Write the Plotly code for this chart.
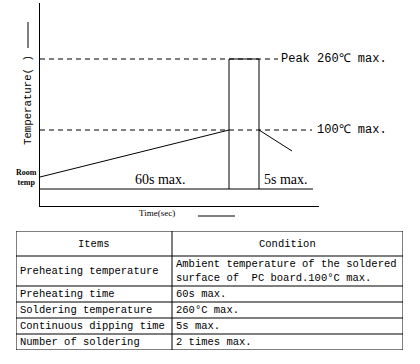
import plotly.graph_objects as go

W, H = 420, 364

# ---- schematic soldering profile (arbitrary units) ----
ramp_time = [0, 189]
ramp_temp = [29, 76]
dip_time = [189, 189, 219, 219]
dip_temp = [17, 147, 147, 17]
cool_time = [219, 252]
cool_temp = [76, 55]
base_time = [0, 273]
base_temp = [17, 17]
peak_time = [0, 238]
peak_temp = [147, 147]
pre_time = [0, 272]
pre_temp = [76, 76]

# ---- table ----
header_cells = ["Items", "Condition"]
items = ["Preheating temperature", "Preheating time", "Soldering temperature",
         "Continuous dipping time", "Number of soldering"]
conditions = ["Ambient temperature of the soldered<br>surface of  PC board.100°C max.",
              "60s max.", "260°C max.", "5s max.", "2 times max."]

MONO = "Liberation Mono"
SERIF = "Liberation Serif"

def px_x(p):
    return p / W

def px_y(p):
    return 1 - p / H

fig = go.Figure()
line = dict(color="black", width=1)
dash = dict(color="black", width=1, dash="5px,4px")
for t, v, st in [(peak_time, peak_temp, dash), (pre_time, pre_temp, dash),
                 (ramp_time, ramp_temp, line), (dip_time, dip_temp, line),
                 (cool_time, cool_temp, line), (base_time, base_temp, line)]:
    fig.add_trace(go.Scatter(x=t, y=v, mode="lines", line=st,
                             hoverinfo="skip", showlegend=False))

# ---- table layout (pixels) ----
col_widths = [156, 231]
row_heights = [25, 30, 16, 16, 16, 16]
tbl_left, tbl_top = 16, 231
tbl_w = sum(col_widths)
tbl_h = sum(row_heights)

ax = dict(showline=True, linecolor="black", linewidth=1, showgrid=False,
          zeroline=False, showticklabels=False, ticks="", fixedrange=True)
fig.update_layout(
    width=W, height=H, margin=dict(l=0, r=0, t=0, b=0),
    paper_bgcolor="white", plot_bgcolor="white",
    xaxis=dict(ax, range=[0, 279], domain=[px_x(40), px_x(319)]),
    yaxis=dict(ax, range=[0, 203], domain=[px_y(206), px_y(3)]),
    xaxis2=dict(visible=False, range=[0, tbl_w], fixedrange=True,
                domain=[px_x(tbl_left), px_x(tbl_left + tbl_w)], anchor="y2"),
    yaxis2=dict(visible=False, range=[tbl_h, 0], fixedrange=True,
                domain=[px_y(tbl_top + tbl_h), px_y(tbl_top)], anchor="x2"),
)

# an invisible trace so the table axes exist
fig.add_trace(go.Scatter(x=[0, tbl_w], y=[0, tbl_h], xaxis="x2", yaxis="y2", mode="markers",
                         marker=dict(opacity=0), hoverinfo="skip", showlegend=False))

bl = dict(color="black", width=1)
# horizontal borders
ys = [0]
for h in row_heights:
    ys.append(ys[-1] + h)
for yv in ys:
    fig.add_shape(type="line", xref="x2", yref="y2", x0=0, x1=tbl_w, y0=yv, y1=yv, line=bl)
# vertical borders
xs = [0]
for w in col_widths:
    xs.append(xs[-1] + w)
for xv in xs:
    fig.add_shape(type="line", xref="x2", yref="y2", x0=xv, x1=xv, y0=0, y1=tbl_h, line=bl)

def tann(text, x, y, xanchor="left"):
    fig.add_annotation(text=text, x=x, y=y, xref="x2", yref="y2", showarrow=False,
                       xanchor=xanchor, yanchor="middle", align="left",
                       font=dict(family=MONO, size=10.5, color="black"))

# header
for c, txt in enumerate(header_cells):
    tann(txt, (xs[c] + xs[c + 1]) / 2, (ys[0] + ys[1]) / 2, xanchor="center")
# body
for r in range(len(items)):
    yc = (ys[r + 1] + ys[r + 2]) / 2
    tann(items[r], xs[0] + 2, yc)
    tann(conditions[r], xs[1] + 2, yc)

def ann(text, x, y, size, family=MONO, xanchor="left", yanchor="middle", xref="x", yref="y", **kw):
    fig.add_annotation(text=text, x=x, y=y, xref=xref, yref=yref, showarrow=False,
                       xanchor=xanchor, yanchor=yanchor,
                       font=dict(family=family, size=size, color="black"), **kw)

ann("Peak 260℃ max.", 239, peak_temp[0], 12)
ann("100℃ max.", 275, pre_temp[0], 12)
ann("60s max.", 120, base_temp[0], 14, family=SERIF, xanchor="center", yanchor="bottom")
ann("5s max.", 222, base_temp[0], 14, family=SERIF, xanchor="left", yanchor="bottom")
ann("<b>Room<br>temp</b>", px_x(26), px_y(177), 8, family=SERIF, xanchor="center",
    xref="paper", yref="paper")
ann("Temperature( )", px_x(28), px_y(100), 10.7, xanchor="center", xref="paper", yref="paper",
    textangle=-90)
ann("Time(sec)", px_x(157), px_y(213), 9, family=SERIF, xanchor="center",
    xref="paper", yref="paper")

fig.add_shape(type="line", xref="paper", yref="paper", x0=px_x(28), x1=px_x(28),
              y0=px_y(22), y1=px_y(48), line=dict(color="black", width=1))
fig.add_shape(type="line", xref="paper", yref="paper", x0=px_x(198), x1=px_x(235),
              y0=px_y(216), y1=px_y(216), line=dict(color="black", width=1))

fig.write_html("out.html", config={"displayModeBar": False},
               post_script="document.body.style.margin='0';")
